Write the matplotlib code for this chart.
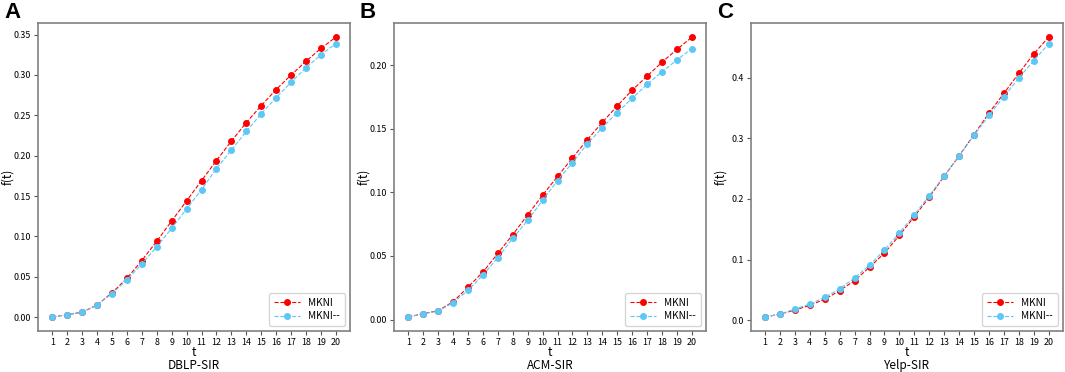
import numpy as np
import matplotlib
matplotlib.use('Agg')
import matplotlib.pyplot as plt

plt.rcParams['font.family'] = ['Noto Sans CJK SC', 'DejaVu Sans']

t = list(range(1, 21))

# DBLP-SIR
dblp_mkni = [0.000, 0.003, 0.006, 0.015, 0.030, 0.048, 0.070, 0.094, 0.119, 0.144,
             0.169, 0.194, 0.218, 0.241, 0.262, 0.282, 0.300, 0.317, 0.333, 0.347]
dblp_mkni2 = [0.000, 0.003, 0.006, 0.015, 0.029, 0.046, 0.066, 0.087, 0.110, 0.134,
              0.158, 0.184, 0.207, 0.230, 0.252, 0.272, 0.291, 0.309, 0.325, 0.339]
# ACM-SIR
acm_mkni = [0.0020, 0.0047, 0.0070, 0.0140, 0.0255, 0.0373, 0.0520, 0.0668, 0.0823, 0.0978,
            0.1125, 0.1270, 0.1414, 0.1550, 0.1679, 0.1803, 0.1913, 0.2023, 0.2123, 0.2220]
acm_mkni2 = [0.0020, 0.0047, 0.0066, 0.0134, 0.0229, 0.0350, 0.0486, 0.0639, 0.0780, 0.0938,
             0.1093, 0.1233, 0.1382, 0.1508, 0.1627, 0.1740, 0.1848, 0.1948, 0.2040, 0.2130]
# Yelp-SIR
yelp_mkni = [0.0055, 0.0105, 0.0170, 0.0248, 0.0350, 0.0490, 0.0656, 0.0876, 0.1110, 0.1400,
             0.1710, 0.2030, 0.2375, 0.2710, 0.3060, 0.3416, 0.3740, 0.4070, 0.4390, 0.4667]
yelp_mkni2 = [0.0055, 0.0105, 0.0187, 0.0270, 0.0380, 0.0520, 0.0700, 0.0910, 0.1160, 0.1440,
              0.1740, 0.2055, 0.2380, 0.2710, 0.3050, 0.3377, 0.3686, 0.3994, 0.4280, 0.4556]

panels = [('A', 'DBLP-SIR', dblp_mkni, dblp_mkni2),
          ('B', 'ACM-SIR', acm_mkni, acm_mkni2),
          ('C', 'Yelp-SIR', yelp_mkni, yelp_mkni2)]
lefts = [0.0357, 0.370, 0.705]
RED = '#ff0000'
BLUE = '#5bc8f5'

fig = plt.figure(figsize=(10.65, 3.72), dpi=100)
for (letter, name, s1, s2), left in zip(panels, lefts):
    ax = fig.add_axes([left, 0.110, 0.293, 0.828])
    ax.plot(t, s1, '--o', color=RED, linewidth=0.8, markersize=4.0, label='MKNI')
    ax.plot(t, s2, '--o', color=BLUE, linewidth=0.8, markersize=4.0, label='MKNI--')
    ax.set_xticks(t)
    ax.tick_params(labelsize=6.4, length=3, width=0.8, color='#555555', pad=2)
    ax.set_xlabel('t', fontsize=8.5, labelpad=0)
    ax.xaxis.set_label_coords(0.5, -0.050)
    ax.text(0.5, -0.113, name, transform=ax.transAxes, fontsize=8.5,
            ha='center', va='center')
    ax.set_ylabel('f(t)', fontsize=8.5)
    ax.yaxis.set_label_coords(-0.077, 0.5)
    for sp in ax.spines.values():
        sp.set_color('#808080')
        sp.set_linewidth(1.2)
    ax.legend(loc='lower right', fontsize=7.2, handlelength=2.6, borderpad=0.5,
              labelspacing=0.35, handletextpad=0.8)
    fig.text(left - 0.032, 0.995, letter, fontsize=16, fontweight='bold',
             family='Liberation Sans', va='top', ha='left')

fig.savefig('out.png', dpi=100)
